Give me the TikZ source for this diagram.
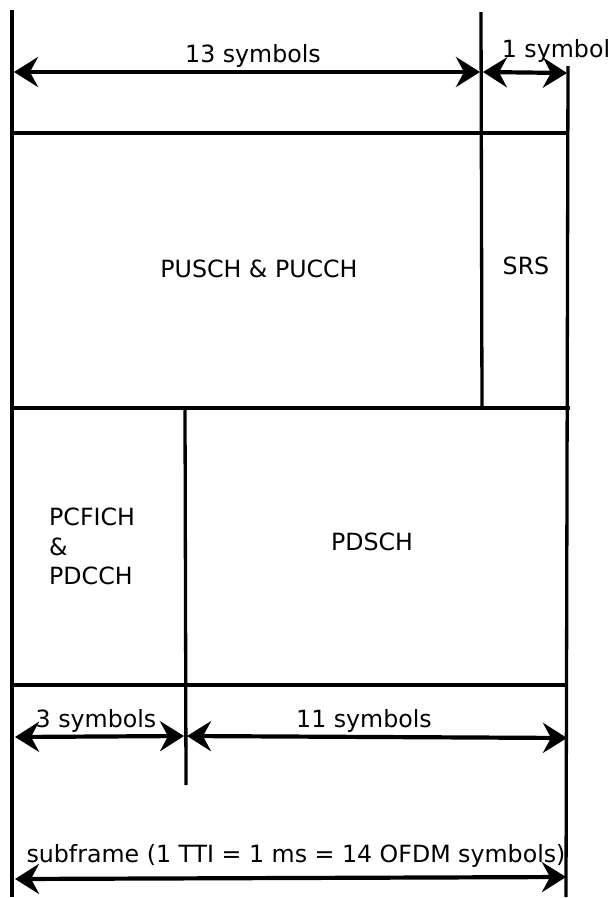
\documentclass[tikz,border=0pt]{standalone}
\usepackage{fontspec}
\setmainfont{DejaVu Sans}
\usetikzlibrary{arrows.meta}
\begin{document}
\begin{tikzpicture}[x=1pt,y=-1pt,
  frame/.style={line width=3.3pt},
  dim/.style={line width=4.2pt,{Stealth[length=24pt,width=30pt,inset=8pt]}-{Stealth[length=24pt,width=30pt,inset=8pt]}},
  lbl/.style={font=\fontsize{23.7}{30}\selectfont,inner sep=0pt,anchor=base}]
\useasboundingbox (0,0) rectangle (611,898);
% frame coordinates
\coordinate (lt) at (12,10);
\coordinate (lb) at (12,897);
\coordinate (mt) at (481,12);
\coordinate (mb) at (482,408);
\coordinate (rt) at (568,66);
\coordinate (rb) at (566,897);
\coordinate (h1l) at (12,133);
\coordinate (h1r) at (568,133);
\coordinate (h2l) at (12,408);
\coordinate (h2r) at (570,408);
\coordinate (ct) at (185,408);
\coordinate (cb) at (186,785);
\coordinate (h3l) at (12,685);
\coordinate (h3r) at (568,685);
\draw[frame] (lt) -- (lb);
\draw[frame] (mt) -- (mb);
\draw[frame] (rt) -- (rb);
\draw[frame] (h1l) -- (h1r);
\draw[frame] (h2l) -- (h2r);
\draw[frame] (ct) -- (cb);
\draw[frame] (h3l) -- (h3r);
% dimension arrows
\coordinate (a1s) at (14,72);
\coordinate (a1e) at (480,72);
\coordinate (a2s) at (483,72);
\coordinate (a2e) at (567,73);
\coordinate (a3s) at (15,737);
\coordinate (a3e) at (184,736);
\coordinate (a4s) at (187,736);
\coordinate (a4e) at (567,738);
\coordinate (a5s) at (15,879);
\coordinate (a5e) at (566,877);
\draw[dim] (a1s) -- (a1e);
\draw[dim] (a2s) -- (a2e);
\draw[dim] (a3s) -- (a3e);
\draw[dim] (a4s) -- (a4e);
\draw[dim] (a5s) -- (a5e);
% labels
\node[lbl] (t13) at (253,62) {13 symbols};
\node[lbl] (t1) at (556,57) {1 symbol};
\node[lbl] (pusch) at (259,277) {PUSCH \& PUCCH};
\node[lbl] (srs) at (526,274) {SRS};
\node[lbl,anchor=base west] (pcf1) at (49,525) {PCFICH};
\node[lbl,anchor=base west] (pcf2) at (49,555) {\&};
\node[lbl,anchor=base west] (pcf3) at (49,584) {PDCCH};
\node[lbl] (pdsch) at (372,550) {PDSCH};
\node[lbl] (t3) at (96,727) {3 symbols};
\node[lbl] (t11) at (364,727) {11 symbols};
\node[lbl] (sub) at (296,862) {subframe (1 TTI = 1 ms = 14 OFDM symbols)};
\end{tikzpicture}
\end{document}
